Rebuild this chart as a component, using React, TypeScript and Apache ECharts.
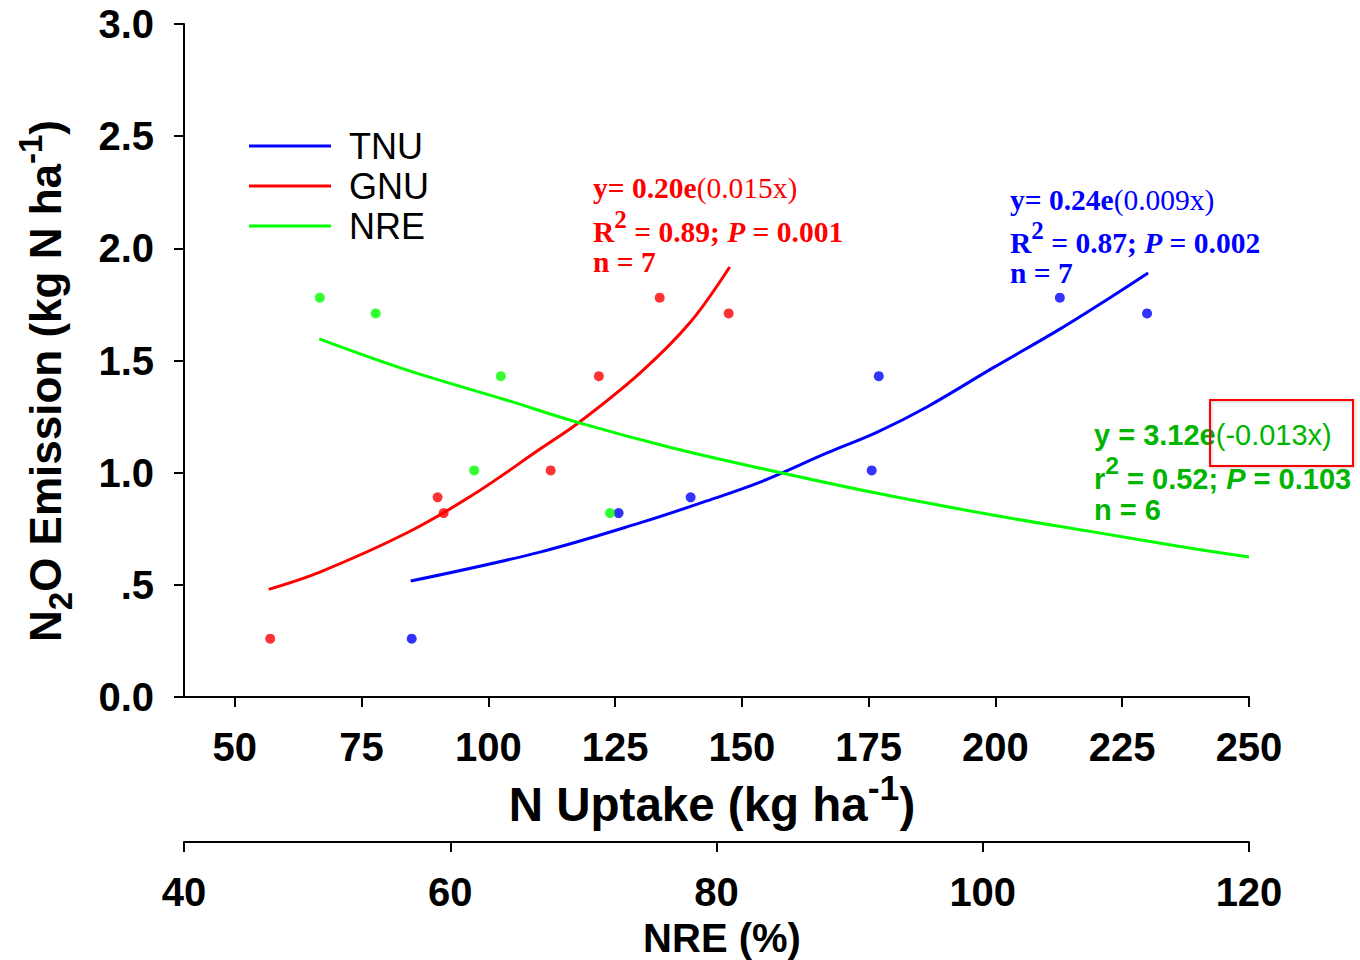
import React, { useEffect, useRef } from "react";
import * as echarts from "echarts";

// ---- data ----
const emission = [0.26, 0.89, 0.82, 1.01, 1.43, 1.78, 1.71];
const tnuUptake = [84.9, 139.9, 125.7, 175.6, 177.0, 212.7, 229.9];
const gnuUptake = [57.0, 90.0, 91.2, 112.3, 121.8, 133.8, 147.4];
const nreEmission = [1.78, 1.71, 1.43, 1.01, 0.82];
const nrePercent = [50.2, 54.4, 63.8, 61.8, 72.0];

const tnuFitX = [84.7, 110.2, 129.9, 143.1, 153.6, 166.8, 176.6, 186.5, 199.5, 212.7, 222.6, 230.1];
const tnuFitY = [0.517, 0.646, 0.776, 0.874, 0.958, 1.088, 1.18, 1.293, 1.467, 1.64, 1.78, 1.89];
const gnuFitX = [56.7, 66.8, 83.9, 96.9, 110.2, 118.0, 129.9, 139.7, 147.6];
const gnuFitY = [0.48, 0.557, 0.731, 0.9, 1.105, 1.226, 1.444, 1.667, 1.917];
const nreFitX = [50.15, 56.7, 64.2, 69.7, 76.7, 83.2, 92.0, 100.75, 108.3, 114.6, 120.0];
const nreFitY = [1.596, 1.458, 1.324, 1.222, 1.11, 1.021, 0.909, 0.811, 0.736, 0.673, 0.624];

const uptakeTicks = [50, 75, 100, 125, 150, 175, 200, 225, 250];
const seriesNames = ["TNU", "GNU", "NRE"];

const BLUE = "#0000ff";
const RED = "#ff0000";
const GREEN = "#00ff00";
const GREEN_TEXT = "#00b400";
const SANS = '"Liberation Sans", Arial, sans-serif';
const SERIF = '"Liberation Serif", "Times New Roman", serif';

const zip = (xs: number[], ys: number[]) => xs.map((x, i) => [x, ys[i]]);

const axisLine = { show: true, onZero: false, lineStyle: { color: "#000", width: 2 } };
const tickLabel = { fontSize: 40, fontWeight: "bold", fontFamily: SANS, color: "#000" };

function richSet(color: string, family: string, size: number) {
  const base = { fontFamily: family, fontSize: size, fill: color, color };
  return {
    b: { ...base, fontWeight: "bold", verticalAlign: "bottom" },
    r: { ...base, fontWeight: "normal", verticalAlign: "bottom" },
    bi: { ...base, fontWeight: "bold", fontStyle: "italic", verticalAlign: "bottom" },
    s: { ...base, fontWeight: "bold", fontSize: size * 0.85, padding: [0, 0, 15, 0], verticalAlign: "top" },
  };
}

function textEl(x: number, y: number, text: string, rich: any, vAlign = "middle") {
  return {
    type: "text",
    x,
    y,
    z: 100,
    style: { text, rich, align: "left", textAlign: "left", verticalAlign: vAlign, textVerticalAlign: vAlign },
  };
}

function smoothLine(name: string, axis: number, xs: number[], ys: number[], color: string) {
  return {
    name,
    type: "line",
    xAxisIndex: axis,
    data: zip(xs, ys),
    smooth: 0.35,
    symbol: "none",
    lineStyle: { color, width: 3 },
    itemStyle: { color },
    silent: true,
  };
}

function points(name: string, axis: number, xs: number[], ys: number[], color: string) {
  return {
    name,
    type: "scatter",
    xAxisIndex: axis,
    data: zip(xs, ys),
    symbolSize: 10,
    itemStyle: { color },
    z: 5,
  };
}

function buildOption(): any {
  const redRich = richSet(RED, SERIF, 29.5);
  const blueRich = richSet(BLUE, SERIF, 29.5);
  const greenRich = richSet(GREEN_TEXT, SANS, 29);
  const titleRich = (size: number, pad: number) => ({
    n: { fontSize: size, fontWeight: "bold", fontFamily: SANS, fill: "#000", color: "#000", verticalAlign: "middle" },
    sub: { fontSize: size * 0.75, fontWeight: "bold", fontFamily: SANS, fill: "#000", color: "#000", padding: [pad, 0, 0, 0], verticalAlign: "bottom" },
    sup: { fontSize: size * 0.75, fontWeight: "bold", fontFamily: SANS, fill: "#000", color: "#000", padding: [0, 0, pad + 4, 0], verticalAlign: "top" },
  });

  return {
    animation: false,
    backgroundColor: "#fff",
    grid: { left: 184, right: 111, top: 24, bottom: 263, containLabel: false, outerBoundsMode: "none" },
    legend: {
      orient: "vertical",
      left: 244,
      top: 123,
      icon: "rect",
      itemWidth: 82,
      itemHeight: 3,
      itemGap: 4,
      data: seriesNames,
      textStyle: { fontSize: 36, fontFamily: SANS, color: "#000", padding: [0, 0, 0, 13] },
    },
    xAxis: [
      {
        type: "value",
        min: 40,
        max: 250,
        position: "bottom",
        axisLine,
        axisTick: { show: true, length: 10, customValues: uptakeTicks, lineStyle: { color: "#000", width: 2 } },
        axisLabel: { ...tickLabel, margin: 30, customValues: uptakeTicks },
        splitLine: { show: false },
      },
      {
        type: "value",
        min: 40,
        max: 120,
        interval: 20,
        position: "bottom",
        offset: 145,
        axisLine,
        axisTick: { show: true, length: 10, lineStyle: { color: "#000", width: 2 } },
        axisLabel: { ...tickLabel, margin: 30 },
        splitLine: { show: false },
      },
    ],
    yAxis: {
      type: "value",
      min: 0,
      max: 3,
      interval: 0.5,
      axisLine,
      axisTick: { show: true, length: 10, lineStyle: { color: "#000", width: 2 } },
      axisLabel: {
        ...tickLabel,
        margin: 30,
        formatter: (v: number) => (v === 0.5 ? ".5" : v.toFixed(1)),
      },
      splitLine: { show: false },
    },
    series: [
      smoothLine("TNU", 0, tnuFitX, tnuFitY, BLUE),
      smoothLine("GNU", 0, gnuFitX, gnuFitY, RED),
      smoothLine("NRE", 1, nreFitX, nreFitY, GREEN),
      points("TNU points", 0, tnuUptake, emission, BLUE),
      points("GNU points", 0, gnuUptake, emission, RED),
      points("NRE points", 1, nrePercent, nreEmission, GREEN),
    ],
    graphic: [
      {
        type: "text",
        x: 45,
        y: 381,
        rotation: Math.PI / 2,
        style: {
          text: "{n|N}{sub|2}{n|O Emission (kg N ha}{sup|-1}{n|)}",
          rich: titleRich(44, 26),
          align: "center",
          textAlign: "center",
          verticalAlign: "middle",
          textVerticalAlign: "middle",
        },
      },
      {
        type: "text",
        x: 712,
        y: 804,
        style: {
          text: "{n|N Uptake (kg ha}{sup|-1}{n|)}",
          rich: titleRich(47.5, 28),
          align: "center",
          textAlign: "center",
          verticalAlign: "middle",
          textVerticalAlign: "middle",
        },
      },
      {
        type: "text",
        x: 722,
        y: 938,
        style: {
          text: "NRE (%)",
          fontSize: 40,
          fontWeight: "bold",
          fontFamily: SANS,
          fill: "#000",
          align: "center",
          textAlign: "center",
          verticalAlign: "middle",
          textVerticalAlign: "middle",
        },
      },
      // red (GNU) annotation
      textEl(593, 203, "{b|y= 0.20e}{r|(0.015x)}", redRich, "bottom"),
      textEl(593, 247, "{b|R}{s|2}{b| = 0.89; }{bi|P}{b| = 0.001}", redRich, "bottom"),
      textEl(593, 277, "{b|n = 7}", redRich, "bottom"),
      // blue (TNU) annotation
      textEl(1010, 215, "{b|y= 0.24e}{r|(0.009x)}", blueRich, "bottom"),
      textEl(1010, 258, "{b|R}{s|2}{b| = 0.87; }{bi|P}{b| = 0.002}", blueRich, "bottom"),
      textEl(1010, 288, "{b|n = 7}", blueRich, "bottom"),
      // green (NRE) annotation
      textEl(1094, 449, "{b|y = 3.12e}{r|(-0.013x)}", greenRich, "bottom"),
      textEl(1094, 493, "{b|r}{s|2}{b| = 0.52; }{bi|P}{b| = 0.103}", greenRich, "bottom"),
      textEl(1094, 524, "{b|n = 6}", greenRich, "bottom"),
      {
        type: "rect",
        z: 101,
        shape: { x: 1210, y: 400, width: 143, height: 66 },
        style: { fill: "none", stroke: "#ff0000", lineWidth: 2, shadowBlur: 3, shadowColor: "rgba(0,0,0,0.25)", shadowOffsetX: 1, shadowOffsetY: 1 },
      },
    ],
  };
}

export default function App() {
  const ref = useRef<HTMLDivElement>(null);
  useEffect(() => {
    if (!ref.current) return;
    const chart = echarts.init(ref.current, null, { renderer: "svg" });
    chart.setOption(buildOption());
    return () => chart.dispose();
  }, []);
  return (
    <div
      ref={ref}
      style={{ position: "fixed", left: 0, top: 0, width: 1360, height: 960, background: "#fff" }}
    />
  );
}
